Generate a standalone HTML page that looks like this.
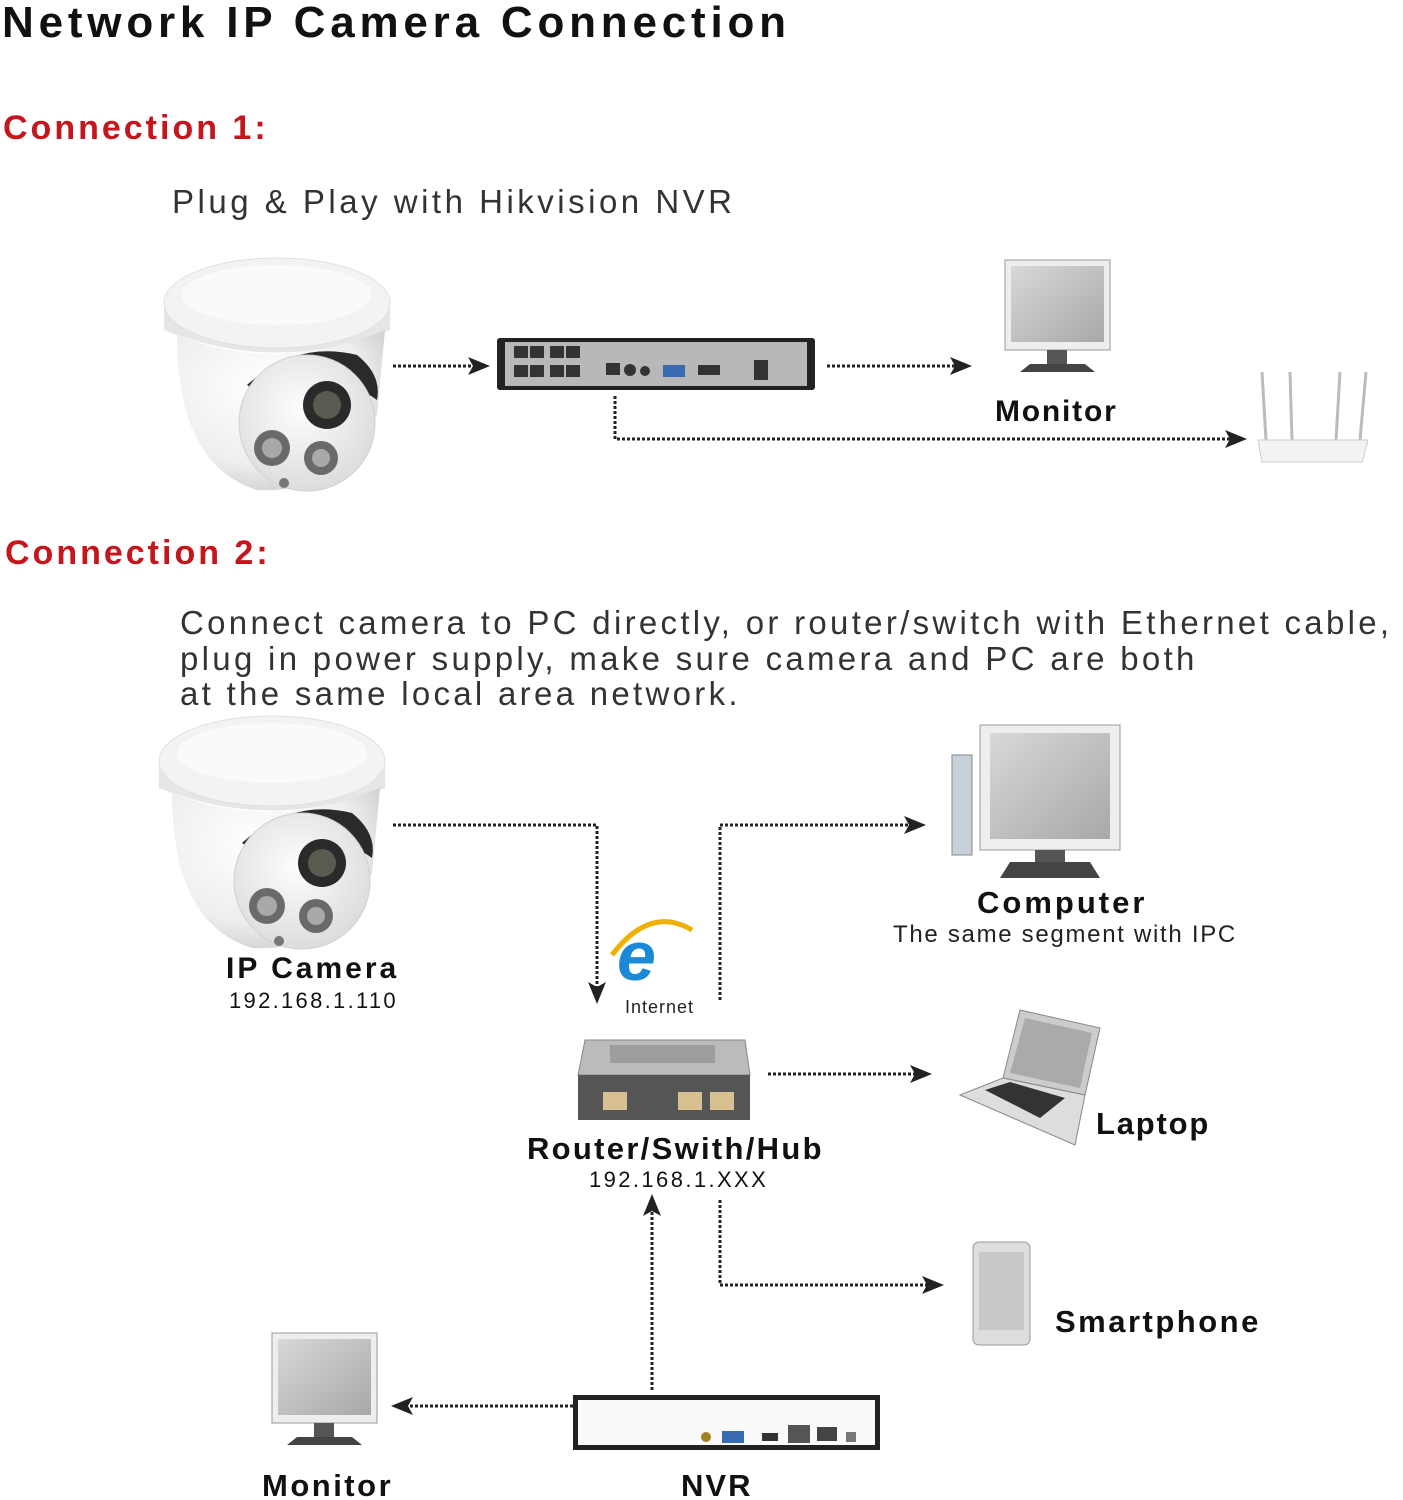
<!DOCTYPE html>
<html><head><meta charset="utf-8"><style>
html,body{margin:0;padding:0;background:#fff;}
svg{display:block;}
text{font-family:"Liberation Sans",sans-serif;}
</style></head><body>
<svg width="1403" height="1500" viewBox="0 0 1403 1500" xmlns="http://www.w3.org/2000/svg">
<defs>
<marker id="ah" markerWidth="22" markerHeight="18" refX="18" refY="9" orient="auto" markerUnits="userSpaceOnUse" viewBox="0 0 22 18">
<path d="M0,0 L22,9 L0,18 L5,9 z" fill="#222"/></marker>
<radialGradient id="dome" cx="40%" cy="35%" r="70%"><stop offset="0" stop-color="#fff"/><stop offset="0.7" stop-color="#eeeeee"/><stop offset="1" stop-color="#cfcfcf"/></radialGradient>
<radialGradient id="ball" cx="45%" cy="40%" r="65%"><stop offset="0" stop-color="#fdfdfd"/><stop offset="1" stop-color="#dadada"/></radialGradient>
<linearGradient id="scr" x1="0" y1="0" x2="1" y2="1"><stop offset="0" stop-color="#d8d8d8"/><stop offset="1" stop-color="#a8a8a8"/></linearGradient>
<g id="cam">
<path d="M-113,-70 L-113,-45 Q0,0 113,-45 L113,-70 z" fill="#e6e6e6"/>
<ellipse cx="0" cy="-72" rx="113" ry="45" fill="#f3f3f3" stroke="#e0e0e0"/>
<ellipse cx="0" cy="-80" rx="95" ry="30" fill="#fafafa"/>
<path d="M-100,-40 Q-100,90 -20,115 Q60,120 100,40 L108,-45 Q0,0 -100,-40 z" fill="url(#dome)"/>
<path d="M-30,10 Q20,-35 80,-20 Q105,0 100,25 Q60,-5 0,30 z" fill="#2a2a2a"/>
<circle cx="30" cy="48" r="68" fill="url(#ball)" stroke="#d0d0d0"/>
<circle cx="50" cy="30" r="24" fill="#2a2a2a"/><circle cx="50" cy="30" r="14" fill="#5a5a50"/>
<circle cx="-5" cy="73" r="18" fill="#6a6a6a"/><circle cx="-5" cy="73" r="10" fill="#a9a9a9"/>
<circle cx="44" cy="83" r="17" fill="#6a6a6a"/><circle cx="44" cy="83" r="9" fill="#a9a9a9"/>
<circle cx="7" cy="108" r="5" fill="#777"/>
</g>
<g id="mon">
<rect x="0" y="0" width="105" height="90" fill="#eee" stroke="#999"/>
<rect x="6" y="6" width="93" height="76" fill="url(#scr)"/>
<rect x="42" y="90" width="20" height="14" fill="#555"/>
<path d="M15,112 L90,112 L80,104 L25,104 z" fill="#444"/>
</g>
</defs>

<text x="2" y="37" font-size="44" font-weight="bold" fill="#111" letter-spacing="4.8">Network IP Camera Connection</text>
<text x="3" y="139" font-size="34" font-weight="bold" fill="#c4161c" letter-spacing="3">Connection 1:</text>
<text x="172" y="213" font-size="33" fill="#333" letter-spacing="3.5">Plug &amp; Play with Hikvision NVR</text>

<use href="#cam" x="277" y="375"/>
<line x1="393" y1="366" x2="486" y2="366" stroke="#222" stroke-width="3" stroke-dasharray="3,2" marker-end="url(#ah)"/>
<rect x="497" y="338" width="318" height="52" rx="3" fill="#222"/>
<rect x="505" y="342" width="302" height="44" fill="#b8b8b8"/>
<g fill="#333"><rect x="514" y="346" width="14" height="12"/><rect x="530" y="346" width="14" height="12"/><rect x="550" y="346" width="14" height="12"/><rect x="566" y="346" width="14" height="12"/>
<rect x="514" y="365" width="14" height="12"/><rect x="530" y="365" width="14" height="12"/><rect x="550" y="365" width="14" height="12"/><rect x="566" y="365" width="14" height="12"/>
<rect x="606" y="363" width="14" height="12"/><circle cx="630" cy="370" r="6"/><circle cx="645" cy="371" r="5"/><rect x="698" y="365" width="22" height="10"/><rect x="754" y="360" width="14" height="20"/></g>
<rect x="663" y="365" width="22" height="12" fill="#3a6ab0"/>
<line x1="827" y1="366" x2="968" y2="366" stroke="#222" stroke-width="3" stroke-dasharray="3,2" marker-end="url(#ah)"/>
<use href="#mon" x="1005" y="260"/>
<text x="995" y="421" font-size="30" font-weight="bold" fill="#111" letter-spacing="1.8">Monitor</text>
<polyline points="615,396 615,439 1243,439" fill="none" stroke="#222" stroke-width="3" stroke-dasharray="3,2" marker-end="url(#ah)"/>
<g stroke="#bbb" stroke-width="3"><line x1="1262" y1="372" x2="1266" y2="440"/><line x1="1290" y1="372" x2="1292" y2="440"/><line x1="1340" y1="372" x2="1336" y2="440"/><line x1="1366" y1="372" x2="1360" y2="440"/></g>
<path d="M1258,440 L1368,440 L1362,462 L1262,462 z" fill="#f3f3f3" stroke="#ccc"/>

<text x="5" y="564" font-size="34" font-weight="bold" fill="#c4161c" letter-spacing="3">Connection 2:</text>
<text font-size="33" fill="#333" letter-spacing="3.3"><tspan x="180" y="634">Connect camera to PC directly, or router/switch with Ethernet cable,</tspan><tspan x="180" y="670">plug in power supply, make sure camera and PC are both</tspan><tspan x="180" y="705">at the same local area network.</tspan></text>

<use href="#cam" x="272" y="833"/>
<text x="226" y="978" font-size="30" font-weight="bold" fill="#111" letter-spacing="3">IP Camera</text>
<text x="229" y="1008" font-size="22" fill="#111" letter-spacing="2.3">192.168.1.110</text>
<polyline points="393,825 597,825 597,1000" fill="none" stroke="#222" stroke-width="3" stroke-dasharray="3,2" marker-end="url(#ah)"/>
<text x="617" y="980" font-size="70" font-weight="bold" fill="#1a8ad8" font-style="italic">e</text>
<path d="M612,955 Q650,905 692,930" fill="none" stroke="#f0b000" stroke-width="5"/>
<text x="625" y="1013" font-size="18" fill="#222" letter-spacing="1">Internet</text>
<polyline points="720,1000 720,825 922,825" fill="none" stroke="#222" stroke-width="3" stroke-dasharray="3,2" marker-end="url(#ah)"/>
<rect x="952" y="755" width="20" height="100" fill="#c8d0dc" stroke="#888"/>
<rect x="980" y="725" width="140" height="125" fill="#eee" stroke="#999"/>
<rect x="990" y="733" width="120" height="106" fill="url(#scr)"/>
<rect x="1035" y="850" width="30" height="14" fill="#555"/>
<path d="M1000,878 L1100,878 L1090,862 L1010,862 z" fill="#444"/>
<text x="977" y="913" font-size="31" font-weight="bold" fill="#111" letter-spacing="3">Computer</text>
<text x="893" y="942" font-size="24" fill="#222" letter-spacing="1.7">The same segment with IPC</text>

<path d="M585,1040 L745,1040 L750,1075 L578,1075 z" fill="#bbb" stroke="#888"/>
<rect x="610" y="1045" width="105" height="18" fill="#888" opacity="0.6"/>
<rect x="578" y="1075" width="172" height="45" fill="#555"/>
<g fill="#d8c090"><rect x="603" y="1092" width="24" height="18"/><rect x="678" y="1092" width="24" height="18"/><rect x="710" y="1092" width="24" height="18"/></g>
<line x1="768" y1="1074" x2="928" y2="1074" stroke="#222" stroke-width="3" stroke-dasharray="3,2" marker-end="url(#ah)"/>
<path d="M1020,1010 L1100,1028 L1085,1095 L1003,1078 z" fill="#ccc" stroke="#888"/>
<path d="M1025,1018 L1092,1033 L1080,1088 L1010,1073 z" fill="#aaa"/>
<path d="M960,1095 L1003,1078 L1085,1095 L1075,1145 z" fill="#ddd" stroke="#888"/>
<path d="M985,1090 L1010,1082 L1065,1098 L1040,1118 z" fill="#333"/>
<text x="1096" y="1134" font-size="31" font-weight="bold" fill="#111" letter-spacing="1.8">Laptop</text>
<text x="527" y="1159" font-size="31" font-weight="bold" fill="#111" letter-spacing="2.3">Router/Swith/Hub</text>
<text x="589" y="1187" font-size="22" fill="#111" letter-spacing="2.4">192.168.1.XXX</text>
<polyline points="720,1200 720,1285 940,1285" fill="none" stroke="#222" stroke-width="3" stroke-dasharray="3,2" marker-end="url(#ah)"/>
<rect x="973" y="1242" width="57" height="103" rx="6" fill="#ddd" stroke="#999"/>
<rect x="979" y="1252" width="45" height="78" fill="#c8c8c8"/>
<text x="1055" y="1332" font-size="31" font-weight="bold" fill="#111" letter-spacing="2.5">Smartphone</text>

<line x1="652" y1="1390" x2="652" y2="1198" stroke="#222" stroke-width="3" stroke-dasharray="3,2" marker-end="url(#ah)"/>
<rect x="573" y="1395" width="307" height="55" fill="#222"/>
<rect x="578" y="1400" width="297" height="45" fill="#fafafa"/>
<circle cx="706" cy="1437" r="5" fill="#a08020"/><rect x="722" y="1431" width="22" height="12" fill="#3a6ab0"/><rect x="762" y="1433" width="16" height="8" fill="#333"/>
<rect x="788" y="1425" width="22" height="18" fill="#555"/><rect x="817" y="1427" width="20" height="14" fill="#444"/><rect x="846" y="1432" width="10" height="10" fill="#777"/>
<line x1="573" y1="1406" x2="395" y2="1406" stroke="#222" stroke-width="3" stroke-dasharray="3,2" marker-end="url(#ah)"/>
<use href="#mon" x="272" y="1333"/>
<text x="262" y="1496" font-size="31" font-weight="bold" fill="#111" letter-spacing="2.5">Monitor</text>
<text x="681" y="1496" font-size="31" font-weight="bold" fill="#111" letter-spacing="2">NVR</text>
</svg>
</body></html>
